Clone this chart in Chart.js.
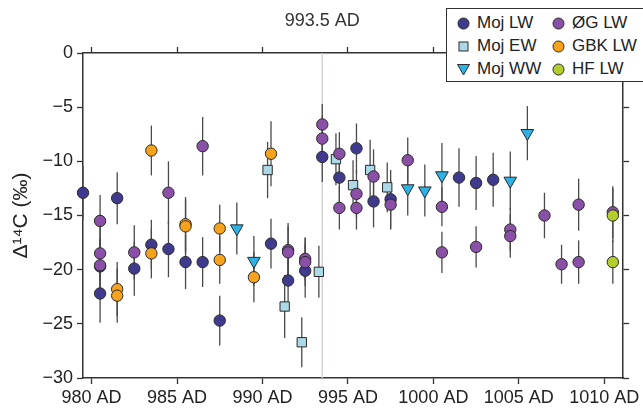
<!DOCTYPE html>
<html>
<head>
<meta charset="utf-8">
<script src="https://cdn.jsdelivr.net/npm/chart.js@4/dist/chart.umd.min.js"></script>
<style>
  html, body { margin: 0; padding: 0; background: #fff; overflow: hidden; }
  #wrap { position: relative; width: 643px; height: 411px; }
  #legend {
    position: absolute; left: 446px; top: 8px; width: 220px; height: 72px;
    border: 1px solid #333; background: #fff;
    font-family: "Liberation Sans", Arial, sans-serif; font-size: 17px; color: #222;
  }
  .item { position: absolute; display: flex; align-items: center; height: 20px; white-space: nowrap; }
  .item svg { margin-right: 7px; }
</style>
</head>
<body>
<div id="wrap">
  <canvas id="chartCanvas" width="643" height="411"></canvas>
  <div id="legend"></div>
</div>
<script>
// [year, Δ14C ‰, error]
const mojLW = [
  [979.5, -12.9, 2.5], [980.5, -22.2, 2.7], [980.5, -19.7, 2.5], [981.5, -13.4, 2.4],
  [982.5, -19.9, 2.5], [983.5, -17.7, 2.3], [984.5, -18.1, 2.6], [985.5, -19.3, 2.5],
  [986.5, -19.3, 2.3], [987.5, -24.7, 2.3], [990.5, -17.6, 2.3], [991.5, -21.0, 2.5],
  [992.5, -20.1, 2.5], [993.5, -9.6, 2.3], [994.5, -11.5, 2.3], [995.5, -8.8, 2.3],
  [996.5, -13.7, 2.4], [997.5, -13.5, 2.7], [1001.5, -11.5, 2.7], [1002.5, -12.0, 2.5],
  [1003.5, -11.7, 2.5]
];
const mojEW = [
  [990.3, -10.8, 2.6], [991.3, -23.4, 2.9], [992.3, -26.7, 2.3], [993.3, -20.2, 2.4],
  [994.3, -9.8, 2.4], [995.3, -12.2, 2.3], [996.3, -10.8, 2.8], [997.3, -12.4, 2.3]
];
const mojWW = [
  [988.5, -16.2, 2.4], [989.5, -19.2, 2.3], [998.5, -12.5, 2.5], [999.5, -12.7, 2.4],
  [1000.5, -11.3, 3.0], [1004.5, -11.8, 2.7], [1005.5, -7.4, 2.5]
];
const ogLW = [
  [980.5, -15.5, 2.4], [980.5, -18.5, 2.5], [980.5, -19.6, 2.5], [982.5, -18.4, 2.5],
  [984.5, -12.9, 2.9], [986.5, -8.6, 2.7], [991.5, -18.2, 2.5], [991.5, -18.4, 2.4],
  [992.5, -19.0, 2.0], [992.5, -19.3, 2.2], [993.5, -6.6, 1.9], [993.5, -7.9, 2.1],
  [994.5, -9.3, 2.0], [994.5, -14.3, 2.0], [995.5, -13.0, 2.2], [995.5, -14.3, 2.0],
  [996.5, -11.4, 2.5], [997.5, -14.0, 2.3], [998.5, -9.9, 2.1], [1000.5, -14.2, 1.8],
  [1000.5, -18.4, 1.9], [1002.5, -17.9, 1.9], [1004.5, -16.3, 2.0], [1004.5, -16.9, 2.0],
  [1006.5, -15.0, 2.1], [1007.5, -19.5, 1.8], [1008.5, -14.0, 2.4], [1008.5, -19.3, 2.0],
  [1010.5, -14.7, 2.4]
];
const gbkLW = [
  [981.5, -21.8, 2.5], [981.5, -22.4, 2.5], [983.5, -9.0, 2.3], [983.5, -18.5, 2.3],
  [985.5, -15.8, 2.5], [985.5, -16.0, 2.5], [987.5, -16.2, 2.2], [987.5, -19.1, 2.2],
  [989.5, -20.7, 2.3], [990.5, -9.3, 3.0]
];
const hfLW = [
  [1010.5, -15.0, 2.5], [1010.5, -19.3, 2.0]
];

const xTicks = [980, 985, 990, 995, 1000, 1005, 1010];
const yTicks = [0, -5, -10, -15, -20, -25, -30];
const xMin = 979.5, xMax = 1011.1;
const yMin = -30, yMax = 0;
const eventYear = 993.5;
const eventLabel = '993.5 AD';

const series = [
  { label: 'Moj LW', data: mojLW, color: '#3f3a8e', shape: 'circle', order: 4 },
  { label: 'ØG LW', data: ogLW, color: '#8a4fa6', shape: 'circle', order: 2 },
  { label: 'Moj EW', data: mojEW, color: '#acd9e8', shape: 'rect', order: 5 },
  { label: 'GBK LW', data: gbkLW, color: '#f7a21b', shape: 'circle', order: 1 },
  { label: 'Moj WW', data: mojWW, color: '#2eb2e6', shape: 'triangle', order: 3 },
  { label: 'HF LW', data: hfLW, color: '#b3cd2c', shape: 'circle', order: 0 }
];

const FONT = '"Liberation Sans", Arial, sans-serif';
Chart.defaults.font.family = FONT;
Chart.defaults.color = '#222';

const radius = { circle: 5.7, rect: 6.6, triangle: 7.3 };

const datasets = series.map(s => ({
  label: s.label,
  data: s.data.map(d => ({ x: d[0], y: d[1], e: d[2] })),
  order: s.order,
  clip: false,
  showLine: false,
  pointStyle: s.shape,
  pointRotation: s.shape === 'triangle' ? 180 : 0,
  pointRadius: radius[s.shape],
  pointBackgroundColor: s.color,
  pointBorderColor: '#2a2a2a',
  pointBorderWidth: 1
}));

// error bars + event marker, drawn under the points
const errorBars = {
  id: 'errorBars',
  beforeDatasetsDraw(chart) {
    const { ctx, chartArea, scales: { x, y } } = chart;
    ctx.save();
    const ex = x.getPixelForValue(eventYear);
    ctx.strokeStyle = '#d8d0d4';
    ctx.lineWidth = 1.5;
    ctx.beginPath();
    ctx.moveTo(ex, chartArea.top);
    ctx.lineTo(ex, chartArea.bottom);
    ctx.stroke();

    ctx.fillStyle = '#333';
    ctx.font = '18px ' + FONT;
    ctx.textAlign = 'center';
    ctx.textBaseline = 'middle';
    ctx.fillText(eventLabel, ex, 21);

    ctx.strokeStyle = '#4a4a4a';
    ctx.lineWidth = 1.3;
    chart.data.datasets.forEach(ds => {
      ds.data.forEach(p => {
        const px = x.getPixelForValue(p.x);
        ctx.beginPath();
        ctx.moveTo(px, y.getPixelForValue(p.y - p.e));
        ctx.lineTo(px, y.getPixelForValue(p.y + p.e));
        ctx.stroke();
      });
    });
    ctx.restore();
  }
};

const axisGrid = { drawOnChartArea: false, drawTicks: true, tickLength: 6, tickColor: '#333', tickWidth: 1.3 };
const axisBorder = { display: true, color: '#333', width: 1.5 };

const ctx = document.getElementById('chartCanvas').getContext('2d');
new Chart(ctx, {
  type: 'scatter',
  data: { datasets },
  plugins: [errorBars],
  options: {
    responsive: false,
    animation: false,
    layout: { padding: 0 },
    plugins: { legend: { display: false }, tooltip: { enabled: false } },
    scales: {
      x: {
        type: 'linear', position: 'bottom', min: xMin, max: xMax,
        afterBuildTicks: s => { s.ticks = xTicks.map(v => ({ value: v })); },
        afterFit: s => { s.height = 33; },
        grid: axisGrid, border: axisBorder,
        ticks: { autoSkip: false, maxRotation: 0, padding: 3, font: { size: 18 }, color: '#222',
          callback: v => v + ' AD' }
      },
      x2: {
        type: 'linear', position: 'top', min: xMin, max: xMax,
        afterBuildTicks: s => { s.ticks = xTicks.map(v => ({ value: v })); },
        afterFit: s => { s.height = 53; },
        grid: axisGrid, border: axisBorder,
        ticks: { display: false }
      },
      y: {
        type: 'linear', position: 'left', min: yMin, max: yMax,
        afterBuildTicks: s => { s.ticks = yTicks.map(v => ({ value: v })); },
        afterFit: s => { s.width = 83; },
        grid: axisGrid, border: axisBorder,
        ticks: { padding: 4, font: { size: 18 }, color: '#222',
          callback: v => v < 0 ? '\u2212' + Math.abs(v) : String(v) },
        title: { display: true, text: 'Δ¹⁴C (‰)', font: { size: 21 }, color: '#222', padding: { top: 9, bottom: 0 } }
      },
      y2: {
        type: 'linear', position: 'right', min: yMin, max: yMax,
        afterBuildTicks: s => { s.ticks = yTicks.map(v => ({ value: v })); },
        afterFit: s => { s.width = 18; },
        grid: axisGrid, border: axisBorder,
        ticks: { display: false }
      }
    }
  }
});

// legend: two columns, three rows
const legend = document.getElementById('legend');
const colX = [10, 105];
const rowY = [4, 27, 50];
const legendOrder = ['Moj LW', 'ØG LW', 'Moj EW', 'GBK LW', 'Moj WW', 'HF LW'];
legendOrder.forEach((name, i) => {
  const s = series.find(t => t.label === name);
  let shape;
  if (s.shape === 'circle') shape = `<circle cx="6.5" cy="6.5" r="5.5" fill="${s.color}" stroke="#2a2a2a" stroke-width="1"/>`;
  else if (s.shape === 'rect') shape = `<rect x="2" y="2" width="9" height="9" fill="${s.color}" stroke="#2a2a2a" stroke-width="1"/>`;
  else shape = `<polygon points="0.5,1.5 12.5,1.5 6.5,12" fill="${s.color}" stroke="#2a2a2a" stroke-width="1"/>`;
  const el = document.createElement('div');
  el.className = 'item';
  el.style.left = colX[i % 2] + 'px';
  el.style.top = rowY[Math.floor(i / 2)] + 'px';
  el.innerHTML = `<svg width="13" height="13">${shape}</svg><span>${name}</span>`;
  legend.appendChild(el);
});
</script>
</body>
</html>
